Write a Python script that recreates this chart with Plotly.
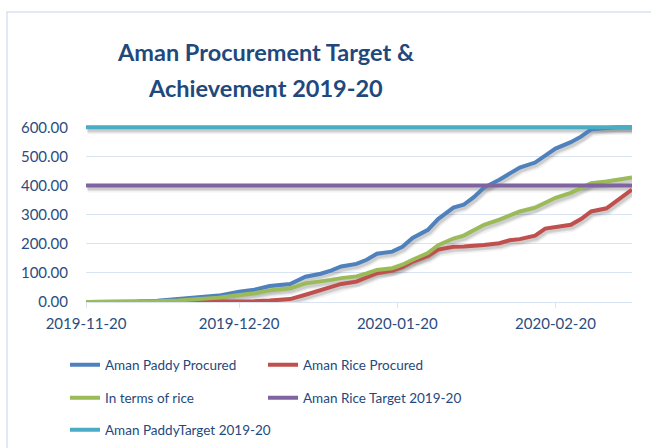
import pandas as pd
import plotly.graph_objects as go

dates = ["2019-11-20", "2019-11-25", "2019-11-30", "2019-12-04", "2019-12-08", "2019-12-12",
         "2019-12-16", "2019-12-20", "2019-12-23", "2019-12-26", "2019-12-30", "2020-01-02",
         "2020-01-05", "2020-01-07", "2020-01-09", "2020-01-12", "2020-01-14", "2020-01-16",
         "2020-01-19", "2020-01-21", "2020-01-23", "2020-01-26", "2020-01-28", "2020-01-31",
         "2020-02-02", "2020-02-04", "2020-02-06", "2020-02-09", "2020-02-11", "2020-02-13",
         "2020-02-16", "2020-02-18", "2020-02-20", "2020-02-23", "2020-02-25", "2020-02-27",
         "2020-03-01", "2020-03-03", "2020-03-06"]

paddy_procured = [0, 0, 1, 4, 9, 14, 22, 35, 42, 55, 62, 87, 97, 108, 122, 131, 145, 166,
                  173, 190, 220, 248, 285, 324, 334, 360, 393, 420, 440, 462, 479, 505, 527,
                  549, 568, 593, 598, 600, 600]
rice_procured = [0, 0, 0, 0, 0, 1, 1, 2, 3, 5, 10, 25, 40, 52, 62, 70, 85, 99, 108, 120,
                 139, 158, 180, 190, 191, 193, 196, 202, 212, 216, 228, 252, 258, 265, 285,
                 311, 322, 348, 386]
in_terms_of_rice = [0, 0, 1, 3, 5, 9, 15, 24, 30, 40, 47, 64, 70, 76, 82, 88, 98, 110, 116,
                    128, 145, 168, 195, 218, 228, 248, 265, 283, 298, 311, 324, 342, 358, 375,
                    392, 408, 414, 420, 428]
rice_target = [400] * len(dates)
paddy_target = [600] * len(dates)

series = [
    ("Aman Paddy Procured", paddy_procured, "#4f81bd"),
    ("Aman Rice Procured", rice_procured, "#c0504d"),
    ("In terms of rice", in_terms_of_rice, "#9bbb59"),
    ("Aman Rice Target 2019-20", rice_target, "#8064a2"),
    ("Aman PaddyTarget 2019-20", paddy_target, "#4bacc6"),
]

title_lines = ["Aman Procurement Target &", "Achievement 2019-20"]
x_tickvals = ["2019-11-20", "2019-12-20", "2020-01-20", "2020-02-20"]
y_tickvals = [0, 100, 200, 300, 400, 500, 600]

W, H = 651, 448
ML, MR, MT, MB = 86, 19, 125, 146
pw, ph = W - ML - MR, H - MT - MB
x0, x1 = pd.Timestamp("2019-11-20"), pd.Timestamp("2020-03-06")
y0, y1 = 0, 608
day_px = pw / ((x1 - x0).total_seconds() / 86400)
unit_px = ph / (y1 - y0)
sdx, sdy = 1.5, 2.5  # shadow offset in px
sx0 = x0 - pd.Timedelta(days=sdx / day_px)
sx1 = x1 - pd.Timedelta(days=sdx / day_px)

# legend grid: (column x px, row y px) for each series
legend_cols = [65, 263]
legend_rows = [365, 398, 430]
legend_slots = [(0, 0), (1, 0), (0, 1), (1, 1), (0, 2)]


def px_x(p):
    return (p - ML) / pw


def px_y(p):
    return ((H - MB) - p) / ph


fig = go.Figure()
# soft shadows (primary, hidden, shifted axes -> drawn beneath)
for sw, sa in [(9, 0.05), (6, 0.08), (4, 0.08)]:
    for name, vals, color in series:
        fig.add_trace(go.Scatter(x=dates, y=vals, mode="lines", xaxis="x", yaxis="y",
                                 line=dict(color=f"rgba(0,0,0,{sa})", width=sw),
                                 showlegend=False, hoverinfo="skip"))
# main lines on visible overlay axes
for i, (name, vals, color) in enumerate(series):
    lg = "legend" if i == 0 else f"legend{i + 1}"
    fig.add_trace(go.Scatter(x=dates, y=vals, mode="lines", name=name, xaxis="x2", yaxis="y2",
                             line=dict(color=color, width=4), legend=lg))

grid = "#d9e3f1"
txt = "#1f497d"
font_ticks = dict(family="Lato", size=15, color="#2a4d7f")
leg_font = dict(family="Lato", size=13.5, color=txt)

legends = {}
for i, (c, r) in enumerate(legend_slots):
    key = "legend" if i == 0 else f"legend{i + 1}"
    legends[key] = dict(orientation="h", xref="container", yref="container",
                        x=legend_cols[c] / W, y=1 - legend_rows[r] / H,
                        xanchor="left", yanchor="middle",
                        font=leg_font, bgcolor="rgba(0,0,0,0)")

fig.update_layout(
    width=W, height=H,
    margin=dict(l=ML, r=MR, t=MT, b=MB),
    paper_bgcolor="white", plot_bgcolor="white",
    xaxis=dict(type="date", range=[sx0, sx1], visible=False),
    yaxis=dict(range=[y0 + sdy / unit_px, y1 + sdy / unit_px], visible=False),
    xaxis2=dict(type="date", range=[x0, x1], overlaying="x", anchor="y2", tickvals=x_tickvals,
                tickformat="%Y-%m-%d", showgrid=False, showline=True, linecolor=grid,
                linewidth=1, ticks="outside", ticklen=5, tickcolor=grid, tickfont=font_ticks,
                zeroline=False, ticklabelstandoff=3),
    yaxis2=dict(range=[y0, y1], overlaying="y", anchor="x2", side="left", tickvals=y_tickvals,
                tickformat=".2f", showgrid=True, gridcolor=grid, gridwidth=1, zeroline=False,
                showline=False, ticks="outside", ticklen=14, tickcolor="rgba(0,0,0,0)",
                tickfont=font_ticks),
    annotations=[
        dict(text=title_lines[0], xref="paper", yref="paper", x=px_x(265), y=px_y(52),
             xanchor="center", yanchor="middle", showarrow=False,
             font=dict(family="Lato", size=23.5, color=txt, weight="bold")),
        dict(text=title_lines[1], xref="paper", yref="paper", x=px_x(265), y=px_y(88),
             xanchor="center", yanchor="middle", showarrow=False,
             font=dict(family="Lato", size=23.5, color=txt, weight="bold")),
    ],
    shapes=[dict(type="rect", xref="paper", yref="paper",
                 x0=px_x(7), x1=px_x(W + 20), y0=px_y(H + 20), y1=px_y(12),
                 line=dict(color="#d6e2f2", width=1.5), layer="below")],
    showlegend=True,
    **legends,
)

fig.write_html("out.html", config={"displayModeBar": False},
               post_script="document.body.style.margin='0px';")
